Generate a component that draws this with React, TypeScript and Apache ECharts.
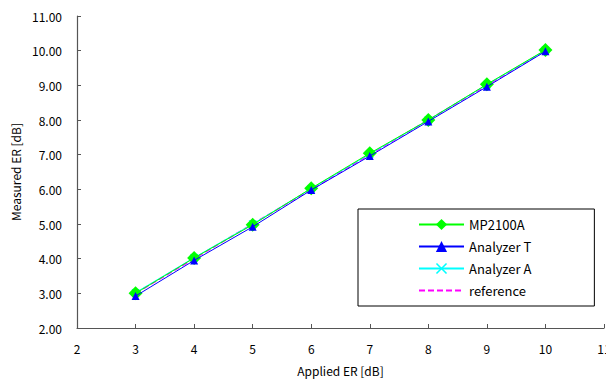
import React, { useEffect, useRef } from "react";
import * as echarts from "echarts";

const appliedER = [3, 4, 5, 6, 7, 8, 9, 10];
const mp2100a = [3.0, 4.02, 4.98, 6.03, 7.04, 8.0, 9.03, 10.02];
const analyzerT = [2.92, 3.95, 4.92, 5.98, 6.96, 7.96, 8.96, 9.98];
const analyzerA = [3.02, 4.03, 5.0, 6.02, 7.02, 8.0, 9.02, 10.01];
const reference = [3, 4, 5, 6, 7, 8, 9, 10];

const FONT = "'Noto Sans CJK JP', 'Noto Sans', sans-serif";
const CROSS =
  "path://M0,1L1,0L5,4L9,0L10,1L6,5L10,9L9,10L5,6L1,10L0,9L4,5Z";

const pairs = (ys: number[]) => appliedER.map((x, i) => [x, ys[i]]);

export default function App() {
  const ref = useRef<HTMLDivElement>(null);
  useEffect(() => {
    document.body.style.margin = "0";
    const chart = echarts.init(ref.current!, null, { renderer: "svg" });
    chart.setOption({
      animation: false,
      backgroundColor: "#ffffff",
      textStyle: { fontFamily: FONT },
      grid: {
        left: 77,
        right: 2,
        top: 16,
        bottom: 53,
        containLabel: false,
        outerBoundsMode: "none",
      },
      xAxis: {
        type: "value",
        min: 2,
        max: 11,
        interval: 1,
        name: "Applied ER [dB]",
        nameLocation: "middle",
        nameGap: 36,
        nameTextStyle: { fontSize: 12, color: "#000", fontFamily: FONT },
        axisLine: { lineStyle: { color: "#555", width: 1.2 } },
        axisTick: { inside: true, length: 4, lineStyle: { color: "#555" } },
        axisLabel: { fontSize: 12, color: "#000", margin: 14, fontFamily: FONT },
        splitLine: { show: false },
      },
      yAxis: {
        type: "value",
        min: 2,
        max: 11,
        interval: 1,
        name: "Measured ER [dB]",
        nameLocation: "middle",
        nameGap: 56,
        nameTextStyle: { fontSize: 12, color: "#000", fontFamily: FONT },
        axisLine: { show: true, lineStyle: { color: "#555", width: 1.2 } },
        axisTick: { show: true, inside: true, length: 4, lineStyle: { color: "#555" } },
        axisLabel: {
          fontSize: 12,
          color: "#000",
          margin: 15,
          fontFamily: FONT,
          formatter: (v: number) => v.toFixed(2),
        },
        splitLine: { show: false },
      },
      legend: {
        orient: "vertical",
        left: 358,
        top: 209,
        padding: [9, 63, 9, 60],
        borderColor: "#000",
        borderWidth: 1,
        itemWidth: 45,
        itemHeight: 14,
        itemGap: 9,
        textStyle: { fontSize: 13, color: "#000", fontFamily: FONT },
        data: [
          "MP2100A",
          "Analyzer T",
          "Analyzer A",
          { name: "reference", itemStyle: { opacity: 0 } },
        ],
      },
      series: [
        {
          name: "reference",
          type: "line",
          data: pairs(reference),
          symbol: "none",
          lineStyle: { color: "#ff00ff", width: 1.5, type: [6, 3] },
          itemStyle: { color: "#ff00ff" },
          z: 1,
        },
        {
          name: "Analyzer A",
          type: "line",
          data: pairs(analyzerA),
          symbol: CROSS,
          symbolSize: 8,
          lineStyle: { color: "#00ffff", width: 1 },
          itemStyle: { color: "#00ffff" },
          z: 2,
        },
        {
          name: "MP2100A",
          type: "line",
          data: pairs(mp2100a),
          symbol: "diamond",
          symbolSize: 14,
          lineStyle: { color: "#00ff00", width: 1 },
          itemStyle: { color: "#00ff00" },
          z: 3,
        },
        {
          name: "Analyzer T",
          type: "line",
          data: pairs(analyzerT),
          symbol: "triangle",
          symbolSize: 8,
          lineStyle: { color: "#0000ff", width: 1 },
          itemStyle: { color: "#0000ff" },
          z: 4,
        },
      ],
    });
    return () => chart.dispose();
  }, []);
  return <div ref={ref} style={{ width: 606, height: 381 }} />;
}
